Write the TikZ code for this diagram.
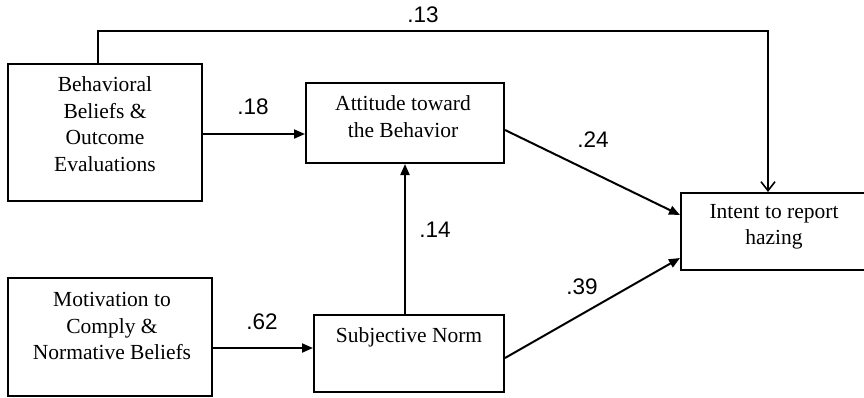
\documentclass[tikz,border=0pt]{standalone}
\usepackage{fontspec}
\setmainfont{Liberation Serif}
\newfontfamily\labfont{Liberation Sans}
\usetikzlibrary{arrows.meta,calc}
\tikzset{
  box/.style={draw=black, line width=2pt, fill=none, inner sep=0pt},
  txt/.style={align=center, inner sep=0pt, font=\fontsize{21.5}{26.5}\selectfont},
  coef/.style={inner sep=0pt, font=\labfont\fontsize{22.5}{24}\selectfont},
  conn/.style={line width=2pt, -{Triangle[length=11pt,width=9pt]}},
  openconn/.style={line width=2pt, -{Straight Barb[length=9pt,width=14pt,line width=1.6pt]}},
}
\begin{document}
\begin{tikzpicture}[x=1pt,y=-1pt]
\useasboundingbox (0,0) rectangle (864,397);
% boxes
\node[box, minimum width=194pt, minimum height=137pt] (bb) at (105,132.5) {};
\node[box, minimum width=198pt, minimum height=80pt] (att) at (405,123) {};
\node[box, minimum width=186pt, minimum height=77pt] (int) at (774,231.5) {};
\node[box, minimum width=204pt, minimum height=118pt] (mot) at (110,337) {};
\node[box, minimum width=190pt, minimum height=77pt] (sn) at (409,353.5) {};
% texts
\node[txt] (bbt) at (105,124) {Behavioral\\Beliefs \&\\Outcome\\Evaluations};
\node[txt] (attt) at (403,116.5) {Attitude toward\\the Behavior};
\node[txt] (intt) at (774,227) {Intent to report\\hazing};
\node[txt] (mott) at (112,326) {Motivation to\\Comply \&\\Normative Beliefs};
\node[txt] (snt) at (409,337) {Subjective Norm};
% connectors
\draw[conn] (bb.east |- 0,134) -- (att.west |- 0,134);
\draw[conn] (mot.east |- 0,348) -- (sn.west |- 0,348);
\draw[conn] (sn.north -| att.south) -- (att.south);
\draw[conn] (att.east |- 0,130) -- (int.west |- 0,215);
\draw[conn] (sn.east |- 0,358) -- (int.west |- 0,258);
\coordinate (c1) at (98,31);
\coordinate (c2) at (768,31);
\draw[openconn] (bb.north -| c1) -- (c1) -- (c2) -- (int.north -| c2);
% coefficients
\node[coef] (l13) at (423,15) {.13};
\node[coef] (l18) at (253,107) {.18};
\node[coef] (l24) at (593,140) {.24};
\node[coef] (l14) at (435,230) {.14};
\node[coef] (l62) at (262,322) {.62};
\node[coef] (l39) at (582,287) {.39};
\end{tikzpicture}
\end{document}
